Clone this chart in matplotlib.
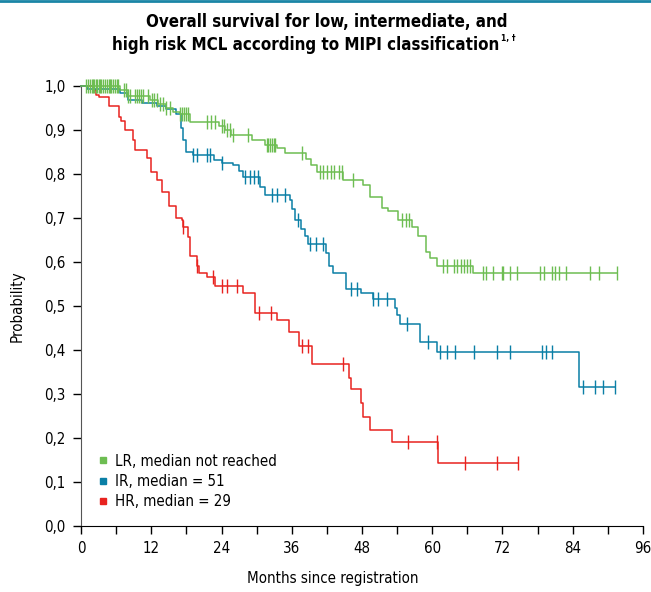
import numpy as np
import matplotlib
matplotlib.use('Agg')
import matplotlib.pyplot as plt
from matplotlib import font_manager
from matplotlib.lines import Line2D
from matplotlib.ticker import MultipleLocator, FuncFormatter

# pick a narrow face if one is installed (reference uses a condensed grotesque)
font_names = {f.name for f in font_manager.fontManager.ttflist}
condensed = [f for f in font_manager.fontManager.ttflist
             if 'condensed' in str(f.stretch) or 'Condensed' in f.fname or 'Narrow' in f.fname]
if 'Liberation Sans Narrow' in font_names:
    base_font, shrink = 'Liberation Sans Narrow', 1.0
elif any(f.name == 'DejaVu Sans' for f in condensed):
    base_font, shrink = 'DejaVu Sans', 0.9
    plt.rcParams['font.stretch'] = 'condensed'
elif condensed:
    base_font, shrink = condensed[0].name, 1.0
else:
    base_font, shrink = 'Liberation Sans', 0.85
plt.rcParams['font.family'] = [base_font, 'DejaVu Sans']

# Kaplan-Meier step data (months, survival probability)
lr_t = [0, 6.7, 8.0, 11.8, 13.2, 14.6, 15.8, 16.9, 18.6, 23.5, 24.6, 25.7, 29.2, 31.4, 33.5,
        34.8, 38.5, 39.3, 40.3, 44.8, 48.2, 49.4, 51.4, 52.5, 54.2, 56.5, 57.5, 58.9, 59.6,
        60.8, 66.9]
lr_s = [1.0, 0.99, 0.978, 0.968, 0.958, 0.949, 0.941, 0.936, 0.919, 0.908, 0.90, 0.889, 0.877,
        0.866, 0.858, 0.847, 0.835, 0.82, 0.805, 0.786, 0.775, 0.748, 0.722, 0.715, 0.695,
        0.68, 0.659, 0.623, 0.61, 0.591, 0.576]
lr_cens = [0.8, 1.2, 1.5, 1.8, 2.0, 2.3, 2.5, 2.8, 3.0, 3.3, 3.5, 3.8, 4.1, 4.4, 4.7, 5.0, 5.2,
           5.5, 5.8, 6.1, 6.4, 7.3, 7.7, 8.1, 8.4, 9.2, 9.6, 9.9, 10.2, 10.6, 11.5, 12.1, 12.4,
           13.0, 13.5, 14.0, 14.6, 15.2, 16.9, 17.3, 17.6, 17.9, 18.3, 21.5, 22.2, 22.9, 24.0,
           24.5, 24.9, 25.4, 26.0, 28.6, 31.7, 32.0, 32.3, 32.6, 32.9, 33.2, 37.7, 40.8, 41.4,
           42.0, 42.7, 43.3, 44.0, 44.5, 46.5, 54.8, 55.6, 56.1, 61.9, 62.6, 63.8, 64.2, 64.9,
           65.5, 66.0, 66.4, 68.6, 69.2, 70.4, 71.9, 72.1, 73.3, 74.4, 78.4, 79.1, 80.4, 80.9,
           81.7, 82.8, 86.9, 88.5, 91.6]

ir_t = [0, 1.0, 6.7, 8.1, 10.5, 13.0, 14.5, 16.2, 17.1, 17.5, 18.0, 19.2, 22.8, 24.0, 26.0,
        27.0, 27.7, 30.6, 31.4, 35.7, 36.0, 36.5, 37.5, 38.2, 38.8, 41.8, 42.3, 43.1, 45.2,
        47.9, 49.9, 53.6, 54.0, 54.5, 57.9, 60.8, 85.0]
ir_s = [1.0, 0.994, 0.985, 0.968, 0.962, 0.955, 0.947, 0.937, 0.905, 0.878, 0.851, 0.843, 0.832,
        0.826, 0.82, 0.806, 0.794, 0.77, 0.752, 0.741, 0.72, 0.695, 0.675, 0.66, 0.642, 0.62,
        0.591, 0.574, 0.539, 0.529, 0.517, 0.495, 0.48, 0.459, 0.419, 0.396, 0.317]
ir_cens = [19.2, 19.8, 21.5, 22.0, 24.0, 28.0, 28.8, 29.6, 30.2, 32.6, 33.4, 34.8, 37.0, 39.1,
           40.2, 41.4, 46.2, 47.1, 49.9, 50.8, 52.2, 55.7, 59.2, 61.3, 62.5, 63.9, 67.1, 71.1,
           73.3, 78.7, 79.5, 80.4, 85.7, 87.8, 89.1, 91.2]

hr_t = [0, 2.0, 2.6, 3.1, 4.7, 6.5, 6.9, 7.5, 8.8, 9.2, 11.2, 12.0, 13.0, 13.8, 15.1, 16.2,
        17.2, 17.5, 18.2, 18.6, 19.8, 20.2, 21.5, 22.9, 27.7, 29.7, 33.4, 35.6, 37.3, 39.4,
        45.7, 46.2, 47.8, 48.1, 49.3, 53.2, 60.9]
hr_s = [1.0, 0.99, 0.98, 0.975, 0.955, 0.930, 0.921, 0.90, 0.877, 0.855, 0.836, 0.805, 0.786,
        0.76, 0.727, 0.70, 0.695, 0.68, 0.657, 0.614, 0.592, 0.576, 0.567, 0.546, 0.529, 0.485,
        0.468, 0.442, 0.41, 0.368, 0.336, 0.311, 0.28, 0.248, 0.218, 0.19, 0.144]
hr_cens = [17.5, 19.9, 22.5, 24.1, 24.9, 26.6, 30.4, 32.5, 37.7, 38.7, 44.7, 55.9, 60.8, 65.6,
           71.1, 74.7]

labels = ['LR, median not reached', 'IR, median = 51', 'HR, median = 29']
colors = ['#6dbd52', '#0a7fa6', '#e8231f']

fig = plt.figure(figsize=(6.51, 5.92), dpi=100)
ax = fig.add_axes([81 / 651, 66 / 592, 562 / 651, 440 / 592])


def km(ax, t, s, cens, color):
    end = max(cens[-1], t[-1])
    ax.step(list(t) + [end], list(s) + [s[-1]], where='post', color=color, lw=1.1,
            clip_on=False, zorder=3)
    idx = np.searchsorted(t, cens, side='right') - 1
    ax.plot(cens, np.array(s)[idx], linestyle='', marker='|', color=color,
            markersize=10, markeredgewidth=1.0, clip_on=False, zorder=3)


km(ax, hr_t, hr_s, hr_cens, colors[2])
km(ax, ir_t, ir_s, ir_cens, colors[1])
km(ax, lr_t, lr_s, lr_cens, colors[0])

fs = 12 * shrink
ax.set_xlim(0, 96)
ax.set_ylim(0, 1.0)
ax.xaxis.set_major_locator(MultipleLocator(12))
ax.xaxis.set_minor_locator(MultipleLocator(6))
ax.yaxis.set_major_locator(MultipleLocator(0.1))
ax.yaxis.set_major_formatter(FuncFormatter(lambda v, p: f'{v:.1f}'.replace('.', ',')))
ax.tick_params(axis='both', labelsize=fs, length=6, width=1, pad=5)
ax.tick_params(axis='x', which='minor', length=6, width=1)
ax.spines['top'].set_visible(False)
ax.spines['right'].set_visible(False)
ax.spines['left'].set_color('#555555')

ax.set_xlabel('Months since registration', fontsize=fs)
ax.set_ylabel('Probability', fontsize=fs)
ax.xaxis.set_label_coords(0.448, -0.102)
ax.yaxis.set_label_coords(-0.1, 0.5)

handles = [Line2D([], [], marker='s', linestyle='', color=c, markersize=5) for c in colors]
ax.legend(handles, labels, loc='lower left', bbox_to_anchor=(0.02, 0.025), frameon=False,
          fontsize=fs, handlelength=0.6, handletextpad=0.5, labelspacing=0.35, borderaxespad=0)

tfs = 13.5 * shrink
t1 = fig.text(0.502, 1 - 22 / 592, 'Overall survival for low, intermediate, and',
              ha='center', va='center', fontsize=tfs, fontweight='bold')
t2 = fig.text(0.47, 1 - 45 / 592, 'high risk MCL according to MIPI classification',
              ha='center', va='center', fontsize=tfs, fontweight='bold')
ax.annotate('1, †', xy=(1.0, 0.6), xycoords=t2, xytext=(1, 0), textcoords='offset points',
            ha='left', va='bottom', fontsize=tfs * 0.5, fontweight='bold')

fig.add_artist(Line2D([0, 1], [0.998, 0.998], transform=fig.transFigure, color='#1a85a6', lw=2))

plt.savefig('out.png', dpi=100)
